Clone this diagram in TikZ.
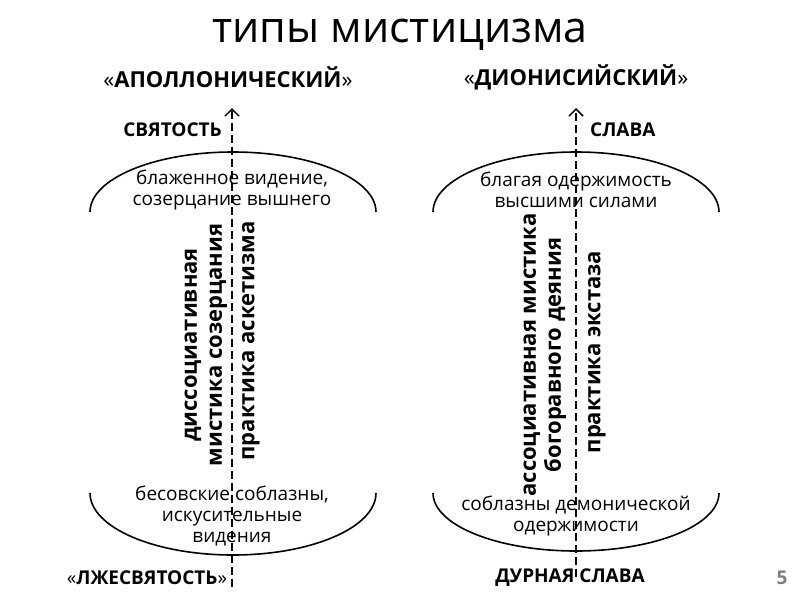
\documentclass[tikz,border=0pt]{standalone}
\usepackage{fontspec}
\setmainfont{Open Sans}
\usetikzlibrary{arrows.meta}
\begin{document}
\begin{tikzpicture}[x=1pt,y=-1pt,
  body/.style={font=\fontsize{19}{21}\selectfont,align=center,inner sep=0pt},
  capt/.style={font=\fontsize{19}{21}\selectfont\bfseries,inner sep=0pt},
  rot/.style={font=\fontsize{22}{25}\selectfont\bfseries,align=center,rotate=90,inner sep=0pt},
  axisline/.style={line width=2.2pt,dash pattern=on 8pt off 4pt,-{Straight Barb[length=7pt,width=14pt,line width=1.5pt]}},
  arcline/.style={line width=1.6pt}]
\useasboundingbox (0,0) rectangle (800,600);
\node[font=\fontsize{43}{45}\selectfont] (title) at (400,35) {типы мистицизма};
\node[font=\fontsize{22}{24}\selectfont] (apol) at (228,77) {«\textbf{АПОЛЛОНИЧЕСКИЙ}»};
\node[font=\fontsize{22}{24}\selectfont] (dion) at (576,77) {«\textbf{ДИОНИСИЙСКИЙ}»};
% left
\coordinate (lb) at (232,587); \coordinate (lt) at (232,108);
\draw[axisline] (lb) -- (lt);
\node[capt,anchor=east] (svyat) at (222,130) {СВЯТОСТЬ};
\draw[arcline] (90,212) arc[start angle=180,end angle=360,x radius=143,y radius=60];
\draw[arcline] (90,493) arc[start angle=180,end angle=0,x radius=143,y radius=62];
\node[body] (lup) at (232,190) {блаженное видение,\\созерцание вышнего};
\node[rot] (ldis) at (206,345) {диссоциативная\\мистика созерцания};
\node[rot] (lpr) at (251,341) {практика аскетизма};
\node[body] (ldn) at (232,516) {бесовские соблазны,\\искусительные\\видения};
\node[font=\fontsize{19}{21}\selectfont,inner sep=0pt] (lzh) at (147,578) {«\textbf{ЛЖЕСВЯТОСТЬ}»};
% right
\coordinate (rb) at (576,577); \coordinate (rt) at (576,108);
\draw[axisline] (rb) -- (rt);
\node[capt,anchor=west] (slava) at (590,130) {СЛАВА};
\draw[arcline] (433,212) arc[start angle=180,end angle=360,x radius=143,y radius=60];
\draw[arcline] (433,493) arc[start angle=180,end angle=0,x radius=143,y radius=58];
\node[body] (rup) at (576,190) {благая одержимость\\высшими силами};
\node[rot] (rass) at (545,355) {ассоциативная мистика\\богоравного деяния};
\node[rot] (rpr) at (597,352) {практика экстаза};
\node[body] (rdn) at (576,516) {соблазны демонической\\одержимости};
\node[capt] (durn) at (570,578) {ДУРНАЯ СЛАВА};
\node[font=\fontsize{19}{21}\selectfont\bfseries,text=gray] (num) at (782,578) {5};
\end{tikzpicture}
\end{document}
